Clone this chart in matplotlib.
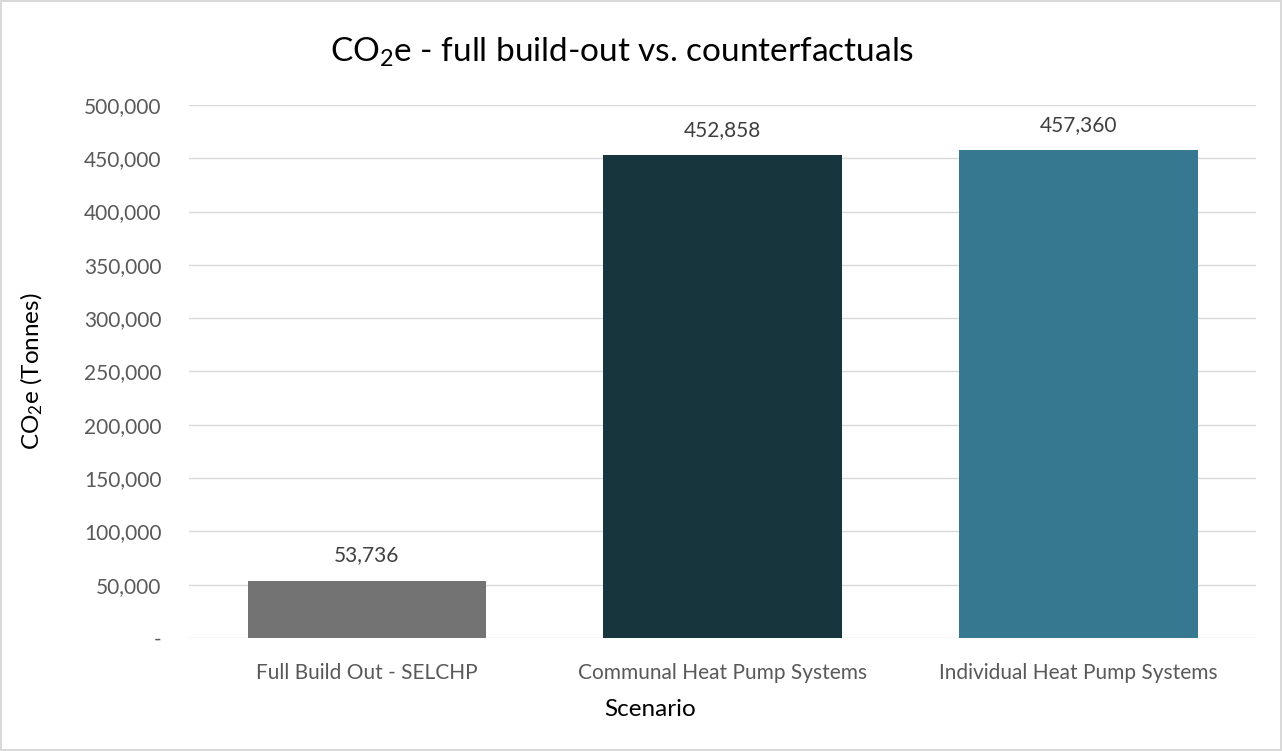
import matplotlib
matplotlib.use("Agg")
import matplotlib.pyplot as plt
from matplotlib.ticker import FuncFormatter

# chart data
scenarios = ["Full Build Out - SELCHP", "Communal Heat Pump Systems",
             "Individual Heat Pump Systems"]
co2e_tonnes = [53736, 452858, 457360]
bar_colors = ["#737373", "#17353D", "#36788F"]

plt.rcParams["font.family"] = ["Lato", "DejaVu Sans"]
plt.rcParams["mathtext.default"] = "regular"

fig = plt.figure(figsize=(12.82, 7.51), dpi=100)
fig.patch.set_edgecolor("#D9D9D9")
fig.patch.set_linewidth(1.5)
ax = fig.add_axes([0.1475, 0.1505, 0.8324, 0.7097])

x = range(len(scenarios))
bars = ax.bar(x, co2e_tonnes, width=0.67, color=bar_colors, zorder=3)
for b, v in zip(bars, co2e_tonnes):
    ax.annotate(f"{v:,}", (b.get_x() + b.get_width() / 2, v),
                xytext=(0, 11), textcoords="offset points",
                ha="center", va="bottom", fontsize=15, color="#404040")

ax.set_ylim(0, 500000)
ax.set_xlim(-0.5, 2.5)
ax.set_yticks(range(0, 500001, 50000))
ax.yaxis.set_major_formatter(FuncFormatter(lambda v, p: "-" if v == 0 else f"{int(v):,}"))
ax.set_xticks(list(x))
ax.set_xticklabels(scenarios)
ax.tick_params(axis="both", length=0, labelsize=15, labelcolor="#595959")
ax.tick_params(axis="y", pad=20)
ax.tick_params(axis="x", pad=18)
ax.grid(axis="y", color="#D9D9D9", linewidth=1, zorder=0)
for s in ax.spines.values():
    s.set_visible(False)

ax.set_xlabel("Scenario", fontsize=17.5, color="black")
ax.xaxis.set_label_coords(0.432, -0.115)
ax.set_ylabel("CO$_2$e (Tonnes)", fontsize=17.5, color="black")
ax.yaxis.set_label_coords(-0.135, 0.5)
fig.text(0.485, 0.93, "CO$_2$e - full build-out vs. counterfactuals",
         ha="center", va="center", fontsize=24, color="black")

fig.savefig("out.png", dpi=100, edgecolor=fig.get_edgecolor())
